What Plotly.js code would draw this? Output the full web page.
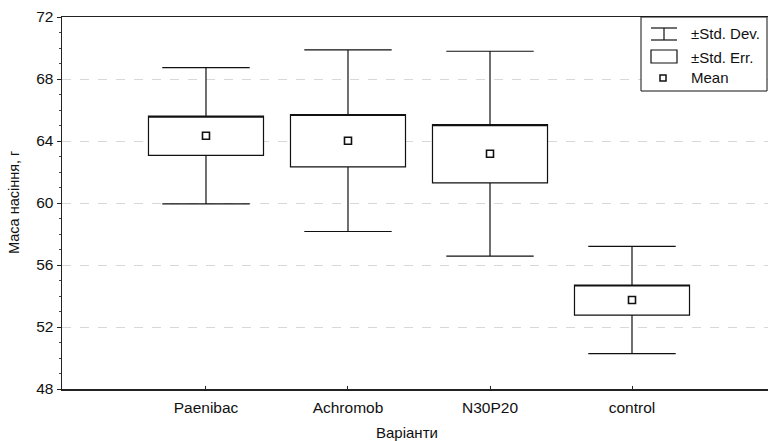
<!DOCTYPE html>
<html>
<head>
<meta charset="utf-8">
<script src="https://cdn.plot.ly/plotly-3.0.1.min.js"></script>
<style>
  html, body { margin: 0; padding: 0; background: #fff; overflow: hidden; }
  #chart { width: 776px; height: 441px; }
</style>
</head>
<body>
<div id="chart"></div>
<script>
// Seed mass by treatment variant: mean, standard error, standard deviation (g)
const variants = ["Paenibac", "Achromob", "N30P20", "control"];
const meanMass = [64.34, 64.02, 63.18, 53.74];
const stdErr   = [1.27, 1.69, 1.88, 0.97];
const stdDev   = [4.40, 5.86, 6.61, 3.46];
const yTicks   = [48, 52, 56, 60, 64, 68, 72];

const lo = (a, b) => a.map((v, i) => v - b[i]);
const hi = (a, b) => a.map((v, i) => v + b[i]);

// Box = mean ± SE, whiskers = mean ± SD (median pinned to the upper box edge)
const boxTrace = {
  type: "box",
  x: variants,
  q1: lo(meanMass, stdErr),
  median: hi(meanMass, stdErr),
  q3: hi(meanMass, stdErr),
  lowerfence: lo(meanMass, stdDev),
  upperfence: hi(meanMass, stdDev),
  width: 0.81,
  whiskerwidth: 0.76,
  fillcolor: "#ffffff",
  line: { color: "#111", width: 1.2 },
  boxpoints: false,
  hoverinfo: "skip",
  showlegend: false
};

const meanTrace = {
  type: "scatter",
  mode: "markers",
  x: variants,
  y: meanMass,
  marker: { symbol: "square-open", size: 7, color: "#111", line: { width: 1.6, color: "#111" } },
  hoverinfo: "skip",
  showlegend: false
};

// Hand-drawn legend panel in the upper right corner
const px = x => (x - 62) / 712;
const py = y => (389 - y) / 372;
const legendShapes = [
  { type: "rect", xref: "paper", yref: "paper", x0: px(641), x1: px(767), y0: py(91), y1: py(17),
    line: { color: "#111", width: 1 }, fillcolor: "#fff", layer: "above" },
  // ±Std. Dev. symbol
  { type: "line", xref: "paper", yref: "paper", x0: px(651), x1: px(677), y0: py(28), y1: py(28), line: { color: "#111", width: 1.2 } },
  { type: "line", xref: "paper", yref: "paper", x0: px(651), x1: px(677), y0: py(40), y1: py(40), line: { color: "#111", width: 1.2 } },
  { type: "line", xref: "paper", yref: "paper", x0: px(664), x1: px(664), y0: py(28), y1: py(40), line: { color: "#111", width: 1.2 } },
  // ±Std. Err. symbol
  { type: "rect", xref: "paper", yref: "paper", x0: px(651), x1: px(677), y0: py(63), y1: py(50), line: { color: "#111", width: 1.2 } },
  // Mean symbol
  { type: "rect", xref: "paper", yref: "paper", x0: px(660), x1: px(666), y0: py(81), y1: py(75), line: { color: "#111", width: 1.5 } }
];

const legendFont = { family: "Liberation Sans, Arial, sans-serif", size: 15, color: "#111" };
const legendLabels = [["±Std. Dev.", 34], ["±Std. Err.", 57], ["Mean", 78]].map(([t, y]) => ({
  text: t, xref: "paper", yref: "paper", x: px(689), y: py(y),
  xanchor: "left", yanchor: "middle", showarrow: false, font: legendFont
}));

const layout = {
  width: 776,
  height: 441,
  margin: { l: 62, r: 2, t: 17, b: 52 },
  paper_bgcolor: "#fff",
  plot_bgcolor: "#fff",
  font: { family: "Liberation Sans, Arial, sans-serif", size: 15, color: "#111" },
  showlegend: false,
  xaxis: {
    type: "category",
    range: [-1.014, 4],
    showgrid: false,
    zeroline: false,
    showline: true,
    linecolor: "#222",
    linewidth: 1.5,
    mirror: true,
    ticks: "inside",
    ticklen: 3,
    tickcolor: "#222",
    ticklabelstandoff: 4,
    tickfont: { size: 15.5 }
  },
  yaxis: {
    range: [48, 72],
    tickvals: yTicks,
    ticktext: yTicks.map(String),
    showgrid: true,
    gridcolor: "#d8d8d8",
    griddash: "dash",
    gridwidth: 1,
    zeroline: false,
    showline: true,
    linecolor: "#222",
    linewidth: 1.5,
    ticks: "outside",
    ticklen: 4,
    tickcolor: "#222",
    tickfont: { size: 15.5 },
    minor: { dtick: 1, ticks: "outside", ticklen: 2, tickcolor: "#444", showgrid: false }
  },
  shapes: legendShapes,
  annotations: [
    ...legendLabels,
    { text: "Варіанти", xref: "paper", yref: "paper", x: px(407), y: py(433),
      xanchor: "center", yanchor: "middle", showarrow: false, font: { size: 15 } },
    { text: "Маса насіння, г", xref: "paper", yref: "paper", x: px(14), y: py(203),
      xanchor: "center", yanchor: "middle", textangle: -90, showarrow: false, font: { size: 14.5 } }
  ]
};

Plotly.newPlot("chart", [boxTrace, meanTrace], layout, { staticPlot: true, displayModeBar: false });
</script>
</body>
</html>
